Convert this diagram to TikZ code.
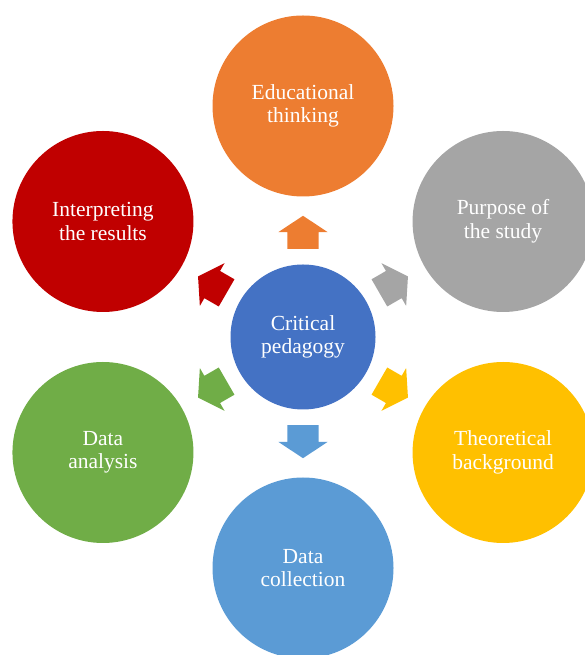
\documentclass[tikz,border=0pt]{standalone}
\usepackage{fontspec}
\setmainfont{Liberation Serif}
\usetikzlibrary{arrows.meta,positioning,shapes.arrows,calc}

\definecolor{cblue}{HTML}{4472C4}
\definecolor{corange}{HTML}{ED7D31}
\definecolor{cgray}{HTML}{A5A5A5}
\definecolor{cgold}{HTML}{FFC000}
\definecolor{clight}{HTML}{5B9BD5}
\definecolor{cgreen}{HTML}{70AD47}
\definecolor{cred}{HTML}{C00000}

\begin{document}
\begin{tikzpicture}[
  x=1pt, y=1pt,
  hub/.style={circle, minimum size=145pt, inner sep=0pt, align=center, text=white, font=\fontsize{21.5}{23.5}\selectfont},
  petal/.style={circle, minimum size=181pt, inner sep=0pt, align=center, text=white, font=\fontsize{21.5}{23.5}\selectfont},
  blk/.style={single arrow, minimum height=33pt, minimum width=49pt, inner xsep=0pt, inner ysep=15.5pt,
    single arrow head extend=9pt, single arrow tip angle=113, anchor=tail}]
  \useasboundingbox (0,0) rectangle (585,655);

  \node[hub, fill=cblue] (ctr) at (303,318) {Critical\\pedagogy};
  \node[petal, fill=corange] (edu) at ($(ctr)+(90:231)$) {Educational\\thinking};
  \node[petal, fill=cgray] (purp) at ($(ctr)+(30:231)$) {Purpose of\\the study};
  \node[petal, fill=cgold] (theo) at ($(ctr)+(-30:231)$) {Theoretical\\background};
  \node[petal, fill=clight] (coll) at ($(ctr)+(-90:231)$) {Data\\collection};
  \node[petal, fill=cgreen] (anal) at ($(ctr)+(-150:231)$) {Data\\analysis};
  \node[petal, fill=cred] (interp) at ($(ctr)+(150:231)$) {Interpreting\\the results};

  % block arrows from the hub
  \node[blk, fill=corange, rotate=90] (a1) at ($(ctr)!88pt!(edu)$) {};
  \node[blk, fill=cgray, rotate=30] (a2) at ($(ctr)!88pt!(purp)$) {};
  \node[blk, fill=cgold, rotate=-30] (a3) at ($(ctr)!88pt!(theo)$) {};
  \node[blk, fill=clight, rotate=-90] (a4) at ($(ctr)!88pt!(coll)$) {};
  \node[blk, fill=cgreen, rotate=-150] (a5) at ($(ctr)!88pt!(anal)$) {};
  \node[blk, fill=cred, rotate=150] (a6) at ($(ctr)!88pt!(interp)$) {};
\end{tikzpicture}
\end{document}
